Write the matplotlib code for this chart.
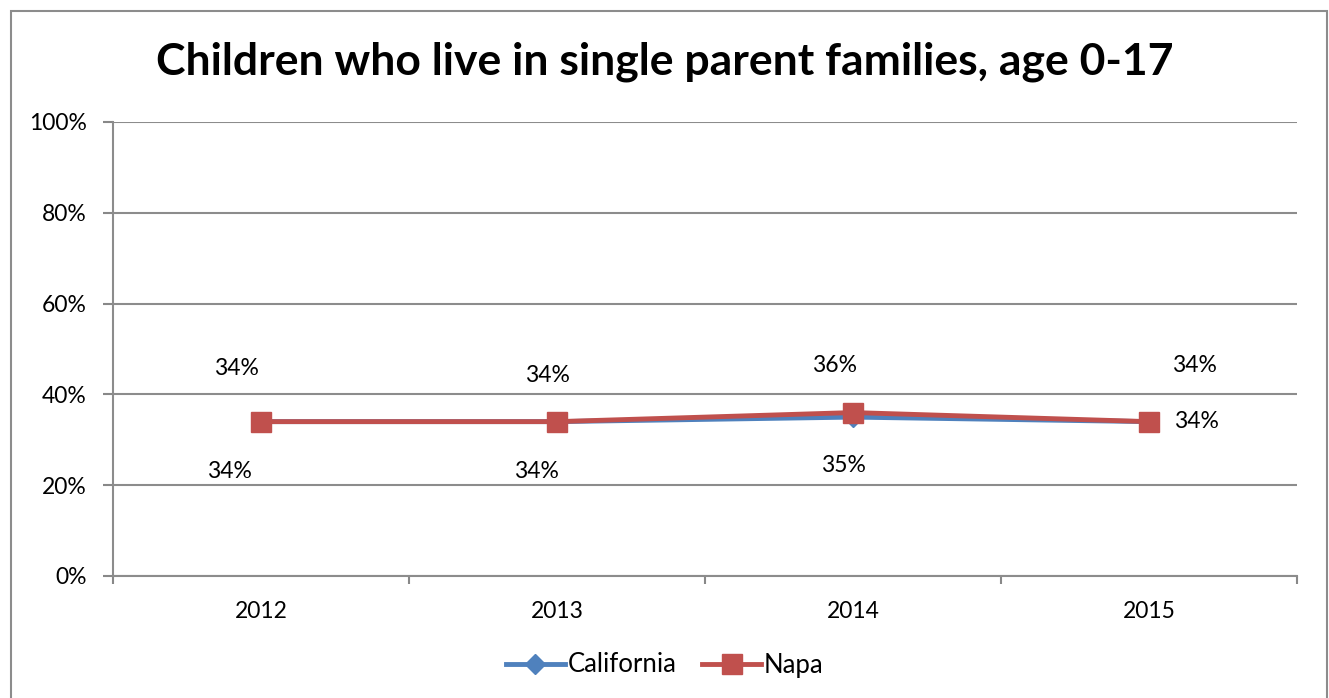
import matplotlib
matplotlib.use('Agg')
import matplotlib.pyplot as plt
from matplotlib.patches import Rectangle
from matplotlib.ticker import PercentFormatter

# data
years = ['2012', '2013', '2014', '2015']
california = [0.34, 0.34, 0.35, 0.34]
napa = [0.34, 0.34, 0.36, 0.34]
yticks = [0, 0.2, 0.4, 0.6, 0.8, 1.0]

# label offsets in pixels (dx, dy), as placed in the original
napa_offsets = [(-25, 53), (-10, 46), (-18, 47), (45, 56)]
cal_offsets = [(-32, -50), (-21, -50), (-10, -48), (47, 0)]

plt.rcParams['font.family'] = ['Lato', 'DejaVu Sans']

fig = plt.figure(figsize=(13.29, 6.98), dpi=100)
W, H = 1329, 698
ax = fig.add_axes([113 / W, 122 / H, (1297 - 113) / W, (576 - 122) / H])

# outer chart border
fig.patches.append(Rectangle((11 / W, -0.05), (1327 - 11) / W, (698 - 11) / H + 0.05,
                             transform=fig.transFigure, fill=False,
                             edgecolor='#8c8c8c', linewidth=1.5))

x = list(range(len(years)))
ax.plot(x, california, color='#4F81BD', linewidth=3.5, marker='D', markersize=10,
        label='California', zorder=3)
ax.plot(x, napa, color='#C0504D', linewidth=3.5, marker='s', markersize=14,
        label='Napa', zorder=4)

fs = 16.5
px = 72 / 100  # pixels to points
for i in x:
    dx, dy = napa_offsets[i]
    ax.annotate(f'{napa[i]:.0%}', (i, napa[i]), xytext=(dx * px, dy * px),
                textcoords='offset points', ha='center', va='center', fontsize=fs)
    dx, dy = cal_offsets[i]
    ax.annotate(f'{california[i]:.0%}', (i, california[i]), xytext=(dx * px, dy * px),
                textcoords='offset points', ha='center', va='center', fontsize=fs)

ax.set_xlim(-0.5, len(years) - 0.5)
ax.set_ylim(0, 1)
ax.set_yticks(yticks)
ax.yaxis.set_major_formatter(PercentFormatter(1.0, decimals=0))
ax.set_xticks(x)
ax.set_xticklabels(years)
ax.set_xticks([i - 0.5 for i in range(len(years) + 1)], minor=True)
ax.tick_params(axis='x', which='major', length=0, pad=18, labelsize=fs)
ax.tick_params(axis='x', which='minor', length=6, color='#888888', width=1.5, direction='out')
ax.tick_params(axis='y', length=7, color='#888888', width=1.5, pad=12, labelsize=fs)
ax.grid(axis='y', color='#8c8c8c', linewidth=1.5)
ax.set_axisbelow(True)
for s in ['top', 'right']:
    ax.spines[s].set_visible(False)
for s in ['left', 'bottom']:
    ax.spines[s].set_color('#8c8c8c')
    ax.spines[s].set_linewidth(1.5)

fig.suptitle('Children who live in single parent families, age 0-17',
             y=1 - 62 / H, va='center', fontsize=32, fontweight='bold')

fig.legend(loc='center', bbox_to_anchor=(0.5, 1 - 665 / H), ncol=2, frameon=False,
           fontsize=18.5, handlelength=2.3, columnspacing=1.0, handletextpad=0.1)

fig.savefig('out.png', dpi=100)
